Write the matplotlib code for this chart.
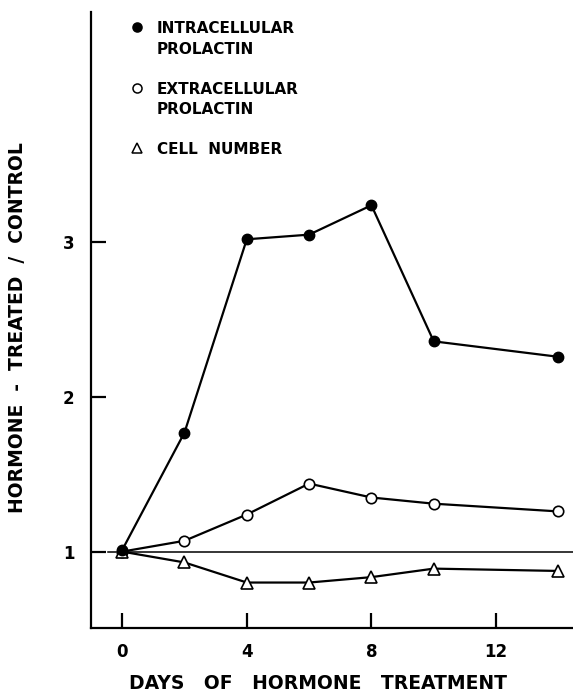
import matplotlib
matplotlib.use("Agg")
import matplotlib.pyplot as plt

days = [0, 2, 4, 6, 8, 10, 14]
intracellular = [1.01, 1.77, 3.02, 3.05, 3.24, 2.36, 2.26]
extracellular = [1.00, 1.07, 1.24, 1.44, 1.35, 1.31, 1.26]
cell_days = [0, 2, 4, 6, 8, 10, 14]
cell_number = [1.00, 0.93, 0.80, 0.80, 0.835, 0.89, 0.875]

x_ticks = [0, 4, 8, 12]
y_ticks = [1, 2, 3]

legend_labels = ["INTRACELLULAR\nPROLACTIN", "EXTRACELLULAR\nPROLACTIN", "CELL  NUMBER"]

plt.rcParams['font.family'] = ['DejaVu Sans']
plt.rcParams['font.weight'] = 'bold'
plt.rcParams['axes.labelweight'] = 'bold'

fig = plt.figure(figsize=(5.73, 6.92), dpi=100)
ax = fig.add_axes([91/573, 1-628/692, 1-91/573, (628-12)/692])
ax.set_xlim(-1, 14.47)
ax.set_ylim(0.506, 4.49)

for s in ['top', 'right']:
    ax.spines[s].set_visible(False)
for s in ['left', 'bottom']:
    ax.spines[s].set_linewidth(1.6)

# reference line at 1
ax.plot([-1, -0.55], [1, 1], color='black', lw=1.1)
ax.plot([-0.45, -0.2], [1, 1], color='black', lw=1.1)
ax.plot([0, 14.47], [1, 1], color='black', lw=1.1, clip_on=False)

ax.plot(days, extracellular, color='black', lw=1.6, marker='o', ms=7.5,
        mfc='white', mec='black', mew=1.2, zorder=3)
ax.plot(cell_days, cell_number, color='black', lw=1.6, marker='^', ms=8,
        mfc='white', mec='black', mew=1.2, zorder=3)
ax.plot(days, intracellular, color='black', lw=1.6, marker='o', ms=7.5,
        mfc='black', mec='black', zorder=4)

ax.set_xticks(x_ticks)
ax.set_yticks(y_ticks)
ax.tick_params(direction='in', length=11, width=1.6, labelsize=12)
ax.tick_params(axis='x', pad=11)
ax.tick_params(axis='y', pad=12)

ax.set_xlabel("DAYS   OF   HORMONE   TREATMENT", fontsize=13.5)
ax.set_ylabel("HORMONE  -  TREATED  /  CONTROL", fontsize=13.5)
ax.xaxis.set_label_coords(0.471, -0.074)
ax.yaxis.set_label_coords(-0.133, 0.487)

# legend
leg_y = [4.39, 4.0, 3.61]
mk = [dict(marker='o', mfc='black'), dict(marker='o', mfc='white'), dict(marker='^', mfc='white')]
for yy, lab, m in zip(leg_y, legend_labels, mk):
    ax.plot([0.47], [yy], linestyle='none', mec='black', mew=1.1,
            ms=6.5 if m['marker'] == 'o' else 7.5, **m)
    ax.text(1.12, yy + 0.04, lab, fontsize=11, va='top', ha='left', linespacing=1.45)

fig.savefig("out.png", dpi=100)
